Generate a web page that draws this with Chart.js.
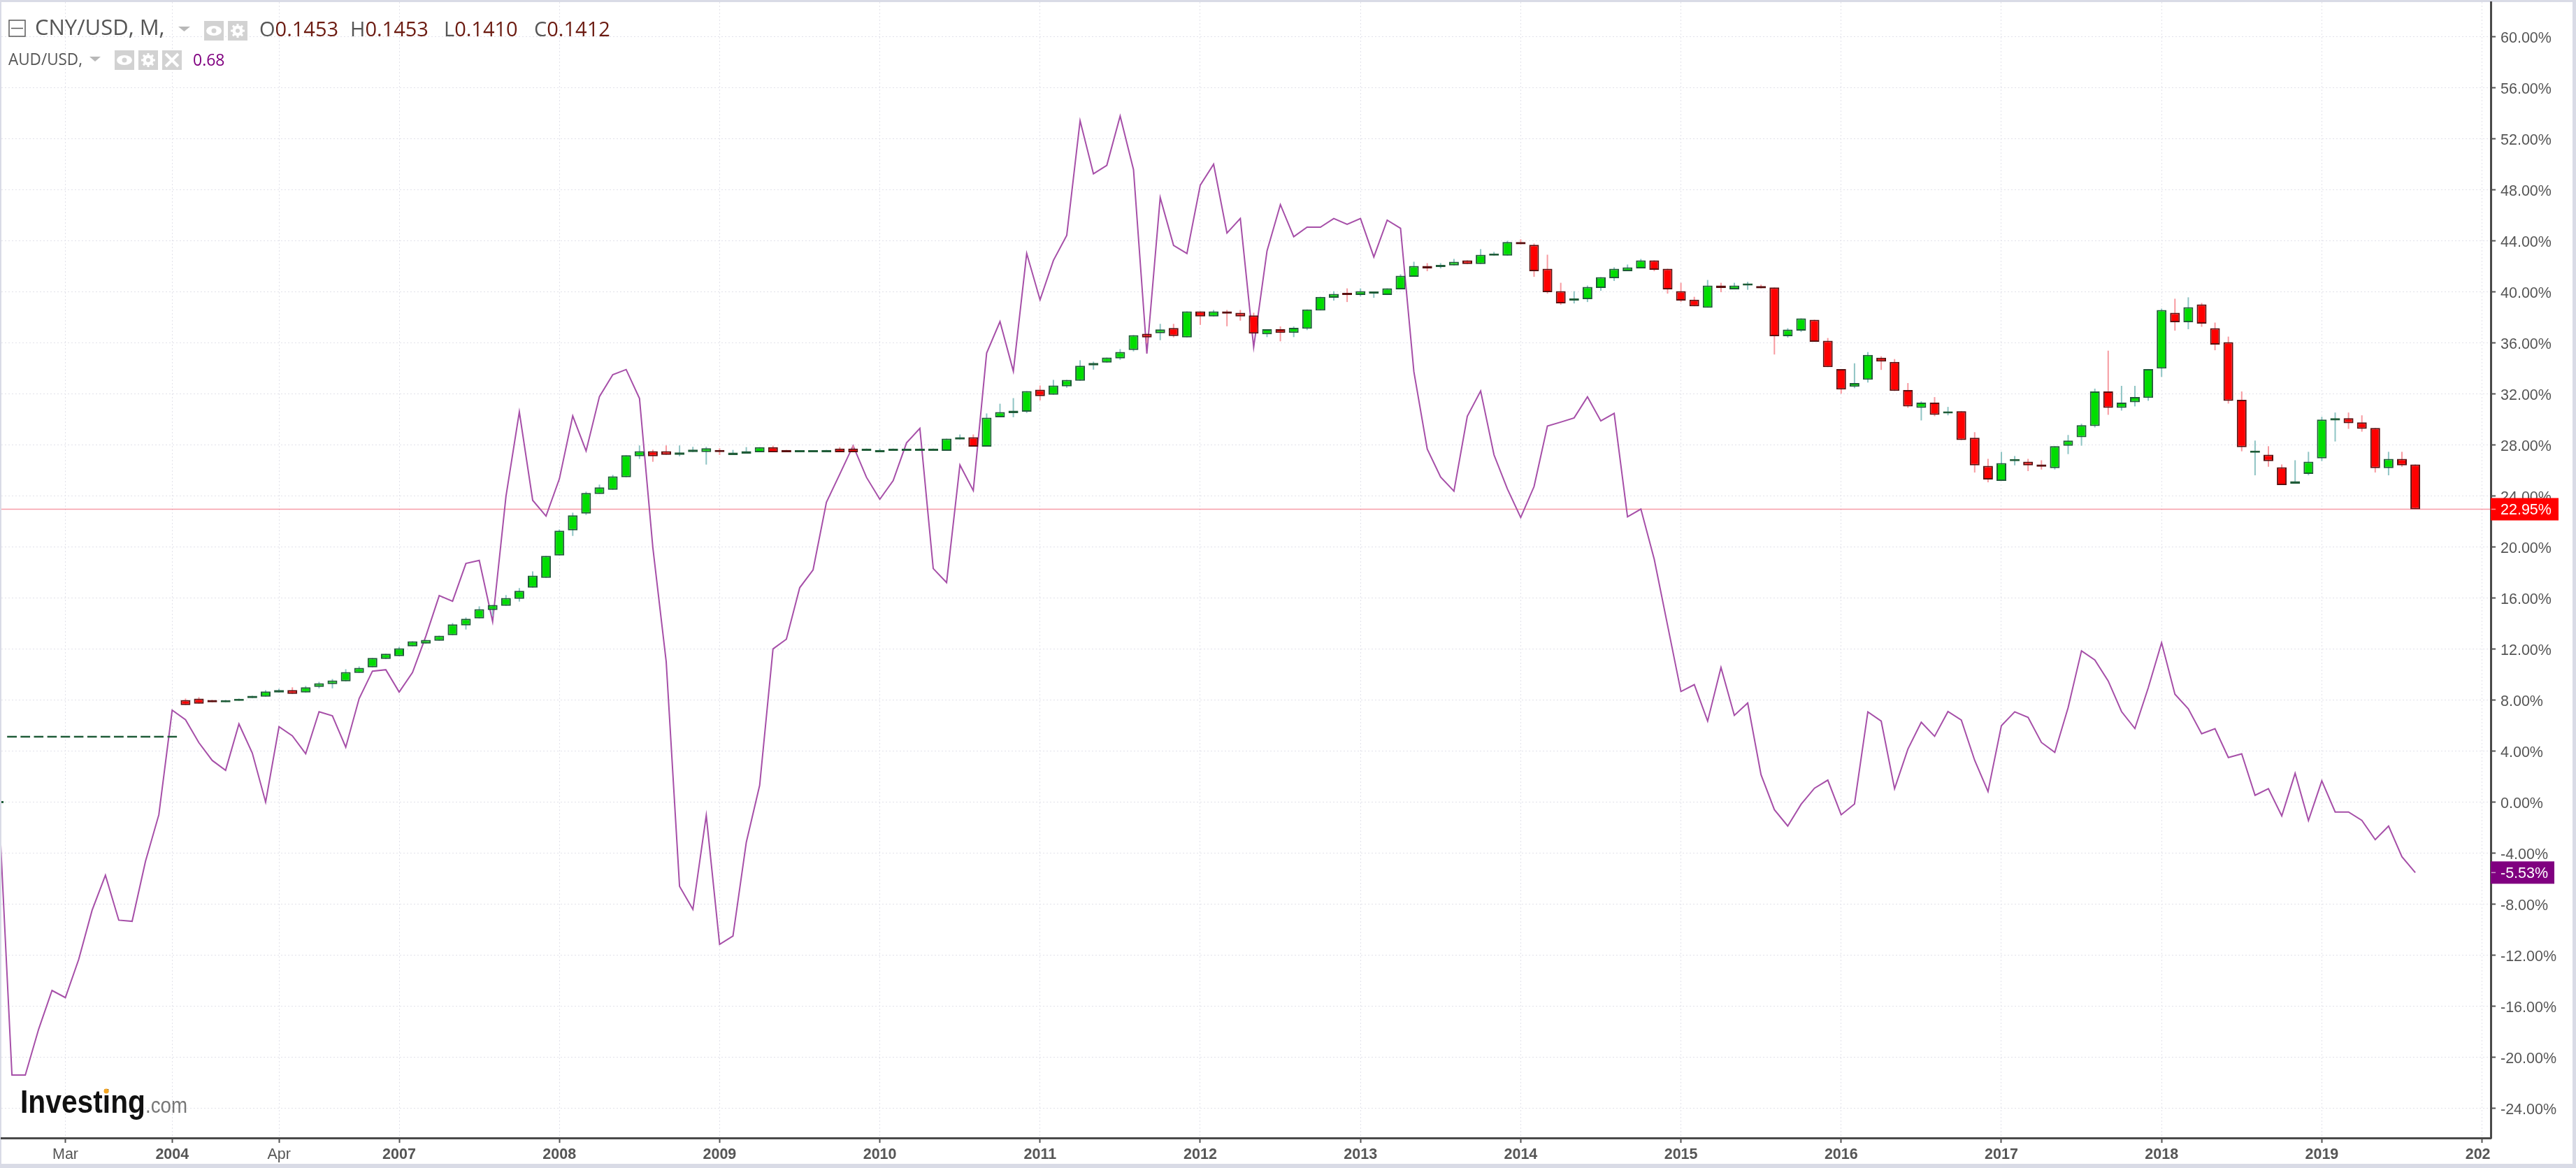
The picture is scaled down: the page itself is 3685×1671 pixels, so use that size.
<!DOCTYPE html>
<html>
<head>
<meta charset="utf-8">
<title>CNY/USD vs AUD/USD</title>
<script src="https://cdn.jsdelivr.net/npm/chart.js@4/dist/chart.umd.min.js"></script>
<style>
    html, body { margin: 0; padding: 0; background: #fff; overflow: hidden; }
    canvas { display: block; }
</style>
</head>
<body>
<canvas id="chart" width="3685" height="1671"></canvas>
<script>
// Bars are evenly spaced by index, labels sit on these bar positions
const tickIndexes = [5, 13, 21, 30, 42, 54, 66, 78, 90, 102, 114, 126, 138, 150, 162, 174, 186];
const tickLabels = ["Mar", "2004", "Apr", "2007", "2008", "2009", "2010", "2011", "2012", "2013", "2014", "2015", "2016", "2017", "2018", "2019", "2020"];
const yTicks = [60, 56, 52, 48, 44, 40, 36, 32, 28, 24, 20, 16, 12, 8, 4, 0, -4, -8, -12, -16, -20, -24];

const lastCny = 22.95;
const lastAud = -5.53;

// CNY/USD monthly candles, 10 per row, in % change
const candleOpen = [
    0, 5.2, 5.2, 5.2, 5.2, 5.2, 5.2, 5.2, 5.2, 5.2,
    5.2, 5.2, 5.2, 5.2, 8.00, 8.11, 8.00, 7.82, 7.93, 8.15,
    8.26, 8.58, 8.77, 8.58, 9.02, 9.24, 9.46, 10.12, 10.56, 11.21,
    11.43, 12.20, 12.42, 12.64, 13.08, 13.84, 14.39, 15.05, 15.38, 15.93,
    16.80, 17.57, 19.32, 21.30, 22.61, 24.15, 24.47, 25.46, 27.10, 27.50,
    27.50, 27.21, 27.43, 27.43, 27.50, 27.20, 27.31, 27.42, 27.82, 27.60,
    27.42, 27.42, 27.42, 27.71, 27.71, 27.53, 27.42, 27.53, 27.53, 27.53,
    27.53, 27.53, 28.41, 28.59, 27.86, 30.16, 30.49, 30.60, 32.32, 31.92,
    32.58, 33.02, 34.22, 34.44, 34.77, 35.43, 36.71, 36.75, 37.15, 36.42,
    38.46, 38.06, 38.46, 38.35, 38.14, 36.66, 37.06, 36.77, 37.10, 38.53,
    39.52, 39.82, 39.74, 39.85, 39.74, 40.18, 41.17, 42.02, 41.94, 42.06,
    42.46, 42.17, 42.83, 42.83, 43.89, 43.67, 41.80, 40.04, 39.30, 39.41,
    40.29, 41.06, 41.61, 41.83, 42.46, 41.80, 40.04, 39.38, 38.75, 40.48,
    40.18, 40.48, 40.44, 40.33, 36.51, 36.95, 37.80, 36.15, 33.94, 32.55,
    33.10, 34.83, 34.50, 32.29, 30.90, 31.30, 30.46, 30.64, 28.55, 26.35,
    25.17, 26.72, 26.68, 26.46, 26.17, 27.93, 28.59, 29.47, 32.18, 30.90,
    31.34, 31.67, 33.98, 38.35, 37.61, 39.01, 37.14, 36.04, 31.52, 27.38,
    27.23, 26.24, 24.95, 25.72, 26.94, 29.91, 30.09, 29.76, 29.32, 26.17,
    26.90, 26.46
];
const candleClose = [
    0, 5.2, 5.2, 5.2, 5.2, 5.2, 5.2, 5.2, 5.2, 5.2,
    5.2, 5.2, 5.2, 5.2, 7.60, 7.71, 7.82, 7.91, 8.00, 8.33,
    8.66, 8.77, 8.47, 8.99, 9.31, 9.53, 10.19, 10.52, 11.29, 11.62,
    12.05, 12.60, 12.71, 13.04, 13.92, 14.36, 15.12, 15.45, 16.00, 16.55,
    17.75, 19.29, 21.26, 22.47, 24.22, 24.66, 25.53, 27.18, 27.50, 27.10,
    27.21, 27.40, 27.62, 27.73, 27.43, 27.39, 27.50, 27.82, 27.42, 27.42,
    27.50, 27.50, 27.60, 27.42, 27.42, 27.60, 27.60, 27.60, 27.60, 27.60,
    27.60, 28.48, 28.59, 27.86, 30.13, 30.57, 30.68, 32.21, 31.81, 32.65,
    33.09, 34.19, 34.41, 34.84, 35.28, 36.60, 36.42, 37.04, 36.53, 38.46,
    38.06, 38.46, 38.28, 38.06, 36.72, 37.06, 36.77, 37.17, 38.61, 39.60,
    39.82, 39.74, 40.04, 39.93, 40.26, 41.25, 42.02, 41.83, 42.02, 42.35,
    42.17, 42.90, 42.90, 43.89, 43.71, 41.61, 39.96, 39.08, 39.38, 40.37,
    41.14, 41.80, 41.91, 42.46, 41.72, 40.18, 39.30, 38.86, 40.48, 40.29,
    40.48, 40.55, 40.26, 36.51, 37.03, 37.91, 36.07, 34.09, 32.33, 32.84,
    35.05, 34.53, 32.22, 31.01, 31.30, 30.35, 30.53, 28.37, 26.39, 25.28,
    26.57, 26.79, 26.39, 26.28, 27.89, 28.33, 29.54, 32.18, 30.90, 31.30,
    31.74, 33.94, 38.57, 37.61, 38.79, 37.50, 35.85, 31.45, 27.82, 27.45,
    26.72, 24.84, 25.14, 26.68, 29.98, 30.09, 29.69, 29.25, 26.17, 26.90,
    26.39, 22.95
];
const candleHigh = [
    0, 5.2, 5.2, 5.2, 5.2, 5.2, 5.2, 5.2, 5.2, 5.2,
    5.2, 5.2, 5.2, 5.2, 8.11, 8.22, 8.00, 8.00, 8.11, 8.33,
    8.77, 8.88, 8.99, 9.10, 9.42, 9.64, 10.41, 10.63, 11.29, 11.62,
    12.16, 12.60, 12.71, 13.04, 14.03, 14.47, 15.34, 15.45, 16.22, 16.77,
    18.08, 19.29, 21.37, 22.68, 24.33, 24.88, 25.64, 27.18, 27.95, 27.62,
    27.95, 27.95, 27.84, 27.84, 27.73, 27.60, 27.82, 27.82, 27.93, 27.60,
    27.50, 27.50, 27.60, 27.82, 27.93, 27.71, 27.71, 27.71, 27.60, 27.71,
    27.71, 28.48, 28.81, 28.81, 30.46, 31.22, 31.66, 32.21, 32.65, 33.09,
    33.09, 34.63, 34.52, 34.84, 35.50, 36.60, 36.71, 37.48, 37.48, 38.46,
    38.46, 38.57, 38.57, 38.57, 38.35, 37.06, 37.28, 37.28, 38.61, 39.60,
    40.04, 40.26, 40.26, 39.93, 40.26, 41.36, 42.35, 42.24, 42.24, 42.57,
    42.46, 43.34, 43.12, 44.00, 44.11, 43.78, 42.90, 40.70, 40.04, 40.48,
    41.14, 41.91, 42.13, 42.57, 42.46, 41.80, 40.70, 39.60, 40.92, 40.70,
    40.70, 40.77, 40.55, 40.33, 37.14, 37.91, 37.80, 36.37, 33.94, 34.39,
    35.27, 34.94, 34.72, 32.84, 31.41, 31.74, 30.97, 30.64, 28.99, 26.90,
    27.45, 27.12, 26.90, 26.79, 27.89, 28.77, 29.65, 32.40, 35.38, 32.62,
    32.62, 33.94, 38.68, 39.45, 39.56, 39.12, 37.58, 36.48, 32.18, 28.33,
    27.89, 26.46, 26.79, 27.45, 30.20, 30.53, 30.53, 30.31, 29.32, 27.45,
    27.45, 26.46
];
const candleLow = [
    0, 5.2, 5.2, 5.2, 5.2, 5.2, 5.2, 5.2, 5.2, 5.2,
    5.2, 5.2, 5.2, 5.2, 7.60, 7.71, 7.82, 7.82, 7.93, 8.15,
    8.26, 8.58, 8.47, 8.58, 8.91, 8.91, 9.46, 10.12, 10.56, 11.21,
    11.43, 12.20, 12.42, 12.64, 13.08, 13.52, 14.39, 14.58, 15.38, 15.71,
    16.80, 17.57, 19.32, 20.86, 22.50, 24.15, 24.47, 25.46, 26.89, 26.67,
    27.21, 27.10, 27.43, 26.45, 27.20, 27.20, 27.31, 27.42, 27.42, 27.42,
    27.42, 27.42, 27.42, 27.42, 27.42, 27.53, 27.42, 27.53, 27.53, 27.53,
    27.53, 27.53, 28.41, 27.86, 27.86, 30.16, 30.16, 30.49, 31.48, 31.92,
    32.47, 33.02, 33.89, 34.44, 34.66, 35.32, 36.00, 36.20, 36.42, 36.42,
    37.40, 38.06, 37.29, 37.73, 36.72, 36.44, 36.11, 36.44, 36.99, 38.53,
    39.30, 39.19, 39.63, 39.52, 39.74, 40.18, 41.17, 41.61, 41.83, 42.06,
    42.17, 42.17, 42.83, 42.83, 43.71, 41.17, 39.85, 38.97, 39.08, 39.19,
    40.07, 40.84, 41.61, 41.83, 41.61, 39.85, 39.19, 38.86, 38.75, 39.96,
    40.18, 40.15, 40.26, 35.08, 36.40, 36.84, 36.07, 34.09, 32.00, 32.44,
    32.88, 33.87, 32.22, 30.90, 29.91, 30.24, 30.31, 28.37, 25.83, 25.06,
    25.17, 26.39, 25.94, 26.06, 26.06, 27.27, 27.93, 29.36, 30.35, 30.68,
    31.01, 31.45, 33.32, 36.95, 37.06, 37.25, 35.41, 31.23, 27.49, 25.61,
    26.28, 24.84, 24.95, 25.61, 26.72, 28.26, 29.25, 29.03, 25.83, 25.61,
    26.28, 22.95
];

// AUD/USD line, 10 per row, in % change
const audLine = [
    0, -21.4, -21.4, -17.8, -14.77, -15.33, -12.33, -8.49, -5.74, -9.26,
    -9.35, -4.65, -1.0, 7.2, 6.45, 4.65, 3.26, 2.49, 6.12, 3.84,
    0, 5.9, 5.19, 3.79, 7.08, 6.76, 4.3, 8.1, 10.26, 10.37,
    8.62, 10.16, 13.0, 16.18, 15.74, 18.7, 18.94, 14.14, 23.96, 30.58,
    23.65, 22.41, 25.33, 30.26, 27.52, 31.78, 33.5, 33.9, 31.63, 19.95,
    11.0, -6.6, -8.42, -1.05, -11.16, -10.5, -3.15, 1.31, 12.0, 12.76,
    16.8, 18.2, 23.49, 25.7, 27.93, 25.45, 23.73, 25.19, 28.15, 29.29,
    18.3, 17.2, 26.42, 24.41, 35.19, 37.66, 33.77, 43.0, 39.36, 42.45,
    44.42, 53.4, 49.24, 49.9, 53.77, 49.57, 35.14, 47.38, 43.63, 43.0,
    48.35, 49.99, 44.6, 45.74, 35.65, 43.2, 46.83, 44.31, 45.06, 45.06,
    45.74, 45.28, 45.74, 42.72, 45.61, 44.97, 33.72, 27.67, 25.47, 24.37,
    30.24, 32.22, 27.21, 24.55, 22.3, 24.73, 29.47, 29.78, 30.11, 31.76,
    29.87, 30.46, 22.36, 22.96, 19.03, 13.85, 8.66, 9.2, 6.34, 10.54,
    6.79, 7.76, 2.14, -0.6, -1.88, -0.18, 1.08, 1.72, -1.0, -0.15,
    7.07, 6.34, 1.04, 4.15, 6.25, 5.15, 7.09, 6.42, 3.27, 0.82,
    5.98, 7.07, 6.64, 4.67, 3.89, 7.4, 11.85, 11.13, 9.49, 7.09,
    5.76, 8.95, 12.49, 8.45, 7.31, 5.35, 5.75, 3.49, 3.78, 0.53,
    1.05, -1.09, 2.25, -1.45, 1.66, -0.78, -0.78, -1.44, -2.95, -1.88,
    -4.29, -5.53
];

const isUp = candleOpen.map((o, i) => candleClose[i] >= o);

const bodies = candleOpen.map((o, i) => ({ x: i, y: [o, candleClose[i]] }));
const wicks = candleHigh.map((h, i) => ({ x: i, y: [candleLow[i], h] }));
const lineData = audLine.map((v, i) => ({ x: i, y: v }));

// Page frame and white plot paper
const paperPlugin = {
    id: "paper",
    beforeDraw(chart) {
        const ctx = chart.ctx;
        ctx.save();
        ctx.fillStyle = "#d9dbe6";
        ctx.fillRect(0, 0, chart.width, chart.height);
        ctx.fillStyle = "#ffffff";
        ctx.fillRect(2, 3, 3678, 1662);
        ctx.restore();
    }
};

function smallBox(ctx, x, y, kind) {
    ctx.fillStyle = "#d2d2d2";
    ctx.fillRect(x, y, 28, 28);
    const cx = x + 14;
    const cy = y + 14;
    ctx.strokeStyle = "#ffffff";
    ctx.fillStyle = "#ffffff";
    if (kind === "eye") {
        ctx.beginPath();
        ctx.ellipse(cx, cy, 11, 7, 0, 0, Math.PI * 2);
        ctx.fill();
        ctx.fillStyle = "#d2d2d2";
        ctx.beginPath();
        ctx.arc(cx, cy, 3.5, 0, Math.PI * 2);
        ctx.fill();
    } else if (kind === "gear") {
        ctx.lineWidth = 3;
        for (let a = 0; a < 4; a++) {
            const ang = a * Math.PI / 4;
            ctx.beginPath();
            ctx.moveTo(cx - Math.cos(ang) * 10, cy - Math.sin(ang) * 10);
            ctx.lineTo(cx + Math.cos(ang) * 10, cy + Math.sin(ang) * 10);
            ctx.stroke();
        }
        ctx.beginPath();
        ctx.arc(cx, cy, 7.5, 0, Math.PI * 2);
        ctx.fill();
        ctx.fillStyle = "#d2d2d2";
        ctx.beginPath();
        ctx.arc(cx, cy, 3, 0, Math.PI * 2);
        ctx.fill();
    } else {
        ctx.lineWidth = 4;
        ctx.beginPath();
        ctx.moveTo(cx - 9, cy - 9);
        ctx.lineTo(cx + 9, cy + 9);
        ctx.moveTo(cx + 9, cy - 9);
        ctx.lineTo(cx - 9, cy + 9);
        ctx.stroke();
    }
}

function triangle(ctx, x, y, w, h) {
    ctx.fillStyle = "#b8b8b8";
    ctx.beginPath();
    ctx.moveTo(x, y);
    ctx.lineTo(x + w, y);
    ctx.lineTo(x + w / 2, y + h);
    ctx.closePath();
    ctx.fill();
}

// Price line, last value tags, header rows and logo
const overlayPlugin = {
    id: "overlay",
    beforeDatasetsDraw(chart) {
        const ctx = chart.ctx;
        const area = chart.chartArea;
        const y = chart.scales.y.getPixelForValue(lastCny);
        ctx.save();
        ctx.strokeStyle = "rgba(240,90,110,0.6)";
        ctx.lineWidth = 1.5;
        ctx.beginPath();
        ctx.moveTo(area.left, y);
        ctx.lineTo(area.right, y);
        ctx.stroke();
        ctx.restore();
    },
    afterDraw(chart) {
        const ctx = chart.ctx;
        const area = chart.chartArea;
        const yScale = chart.scales.y;
        ctx.save();

        // the last x label is cut by the end of the time axis
        ctx.fillStyle = "#ffffff";
        ctx.fillRect(area.right - 1, area.bottom + 3, 115, 33);

        ctx.textBaseline = "middle";
        ctx.font = "21.5px 'Liberation Sans'";
        const tags = [[lastCny, "#ff0000", 97], [lastAud, "#800080", 91]];
        tags.forEach(tag => {
            const y = yScale.getPixelForValue(tag[0]);
            ctx.fillStyle = tag[1];
            ctx.fillRect(area.right, y - 16, tag[2], 32);
            ctx.strokeStyle = "rgba(255,255,255,0.6)";
            ctx.lineWidth = 1.5;
            ctx.beginPath();
            ctx.moveTo(area.right + 1, y);
            ctx.lineTo(area.right + 7, y);
            ctx.stroke();
            ctx.fillStyle = "#ffffff";
            ctx.fillText(tag[0].toFixed(2) + "%", area.right + 14, y + 2);
        });

        // collapse box
        ctx.strokeStyle = "#5a5a5a";
        ctx.lineWidth = 1.5;
        ctx.strokeRect(13, 29, 23, 23);
        ctx.beginPath();
        ctx.moveTo(16, 40.5);
        ctx.lineTo(33, 40.5);
        ctx.stroke();

        ctx.fillStyle = "#555555";
        ctx.font = "31px 'Open Sans'";
        ctx.fillText("CNY/USD, M,", 50, 41, 195);
        triangle(ctx, 255, 38, 17, 7);
        smallBox(ctx, 292, 30, "eye");
        smallBox(ctx, 326, 30, "gear");

        const ohlc = [["O", "0.1453", 371], ["H", "0.1453", 501], ["L", "0.1410", 635], ["C", "0.1412", 764]];
        ctx.font = "29px 'Open Sans'";
        ohlc.forEach(item => {
            ctx.fillStyle = "#555555";
            ctx.fillText(item[0], item[2], 44);
            const w = ctx.measureText(item[0]).width;
            ctx.fillStyle = "#6b1a10";
            ctx.fillText(item[1], item[2] + w, 44);
        });

        ctx.fillStyle = "#555555";
        ctx.font = "23px 'Open Sans'";
        ctx.fillText("AUD/USD,", 12, 86, 106);
        triangle(ctx, 128, 81, 16, 7);
        smallBox(ctx, 164, 72, "eye");
        smallBox(ctx, 198, 72, "gear");
        smallBox(ctx, 232, 72, "x");
        ctx.fillStyle = "#800080";
        ctx.fillText("0.68", 276, 87);

        // logo
        ctx.textBaseline = "alphabetic";
        ctx.fillStyle = "#111111";
        ctx.font = "bold 47px 'Liberation Sans'";
        ctx.fillText("Investing", 29, 1592, 179);
        ctx.fillStyle = "#777777";
        ctx.font = "31px 'Liberation Sans'";
        ctx.fillText(".com", 208, 1592, 60);
        ctx.fillStyle = "#f5a623";
        ctx.beginPath();
        ctx.arc(152, 1561, 3.5, 0, Math.PI * 2);
        ctx.fill();
        ctx.restore();
    }
};

new Chart(document.getElementById("chart").getContext("2d"), {
    type: "bar",
    data: {
        datasets: [
            {
                label: "CNY/USD",
                data: bodies,
                order: 1,
                grouped: false,
                barThickness: 14,
                minBarLength: 3,
                inflateAmount: 0,
                borderSkipped: false,
                borderWidth: 2,
                backgroundColor: isUp.map(up => up ? "#00dd00" : "#ff0000"),
                borderColor: isUp.map(up => up ? "#1f5c38" : "#5a1010")
            },
            {
                label: "CNY/USD range",
                data: wicks,
                order: 2,
                grouped: false,
                barThickness: 2,
                inflateAmount: 0,
                borderWidth: 0,
                backgroundColor: isUp.map(up => up ? "#8fc4c4" : "#f79aa0")
            },
            {
                type: "line",
                label: "AUD/USD",
                data: lineData,
                order: 3,
                borderColor: "#a64fa8",
                borderWidth: 2,
                pointRadius: 0,
                tension: 0,
                fill: false
            }
        ]
    },
    options: {
        responsive: false,
        animation: false,
        layout: { padding: { left: 2, top: 3, right: 0, bottom: 0 } },
        plugins: {
            legend: { display: false },
            tooltip: { enabled: false }
        },
        scales: {
            x: {
                type: "linear",
                offset: false,
                min: 0.209,
                max: 186.65,
                afterBuildTicks: scale => {
                    scale.ticks = tickIndexes.map(v => ({ value: v }));
                },
                afterFit: scale => {
                    scale.height = 43;
                    scale.paddingLeft = 0;
                    scale.paddingRight = 0;
                },
                border: { color: "#4a4a4a", width: 3, dash: [2, 3] },
                grid: {
                    offset: false,
                    color: "#e2e2ea",
                    lineWidth: 1,
                    tickColor: "#555555",
                    tickLength: 7,
                    tickWidth: 2
                },
                ticks: {
                    autoSkip: false,
                    maxRotation: 0,
                    padding: 4,
                    color: "#555555",
                    font: ctx => ({
                        family: "'Liberation Sans'",
                        size: 21.5,
                        weight: ctx.tick && /^\d/.test(ctx.tick.label) ? "bold" : "normal"
                    }),
                    callback: value => tickLabels[tickIndexes.indexOf(value)]
                }
            },
            y: {
                position: "right",
                min: -26.33,
                max: 62.7,
                afterBuildTicks: scale => {
                    scale.ticks = yTicks.map(v => ({ value: v }));
                },
                afterFit: scale => {
                    scale.width = 122;
                    scale.paddingTop = 0;
                    scale.paddingBottom = 0;
                },
                border: { color: "#4a4a4a", width: 3, dash: [2, 3] },
                grid: {
                    color: "#e2e2ea",
                    lineWidth: 1,
                    tickColor: "#555555",
                    tickLength: 7,
                    tickWidth: 2
                },
                ticks: {
                    padding: 7,
                    labelOffset: 3,
                    color: "#555555",
                    font: { family: "'Liberation Sans'", size: 21.5 },
                    callback: value => value.toFixed(2) + "%"
                }
            }
        }
    },
    plugins: [paperPlugin, overlayPlugin]
});
</script>
</body>
</html>
